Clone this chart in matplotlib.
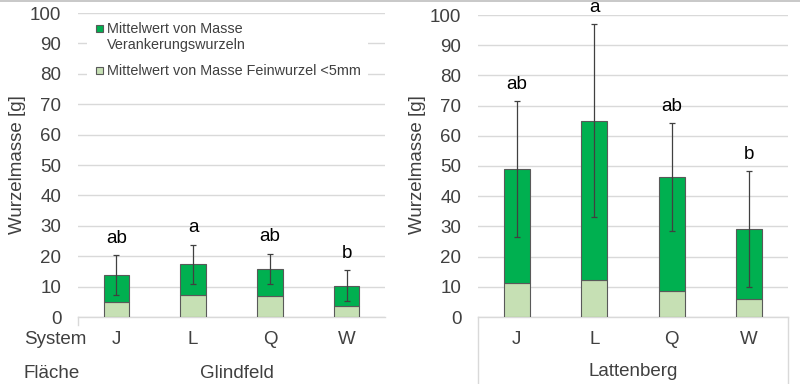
import matplotlib
matplotlib.use("Agg")
import matplotlib.pyplot as plt
from matplotlib.lines import Line2D
from matplotlib.patches import Rectangle

plt.rcParams['font.family'] = ['Liberation Sans', 'DejaVu Sans']

# data
systems = ['J', 'L', 'Q', 'W']
glind_total = [13.7, 17.4, 15.8, 10.3]
glind_fine = [5.0, 7.3, 7.0, 3.7]
glind_sd = [6.6, 6.4, 5.0, 5.1]
glind_letters = ['ab', 'a', 'ab', 'b']

latt_total = [49.0, 65.0, 46.3, 29.0]
latt_fine = [11.3, 12.3, 8.7, 6.0]
latt_sd = [22.5, 32.0, 17.9, 19.2]
latt_letters = ['ab', 'a', 'ab', 'b']

legend_labels = ['Mittelwert von Masse\nVerankerungswurzeln',
                 'Mittelwert von Masse Feinwurzel <5mm']

DARK = '#00B050'
LIGHT = '#C6E0B4'
EDGE = '#595959'
GRID = '#D9D9D9'
TXT = '#404040'

W, H = 800, 384
fig = plt.figure(figsize=(8, 3.84), dpi=100)


def fx(px):
    return px / W


def fy(py):
    return 1 - py / H


def px_axes(x0, x1, y_top, y_zero):
    return fig.add_axes([fx(x0), fy(y_zero), (x1 - x0) / W, (y_zero - y_top) / H])


def draw_panel(ax, total, fine, sd, letters):
    x = range(len(systems))
    upper = [t - f for t, f in zip(total, fine)]
    ax.bar(x, fine, width=0.33, color=LIGHT, edgecolor=EDGE, linewidth=0.8, zorder=3)
    ax.bar(x, upper, bottom=fine, width=0.33, color=DARK, edgecolor=EDGE, linewidth=0.8,
           zorder=3)
    ax.errorbar(x, total, yerr=sd, fmt='none', ecolor='#404040', elinewidth=0.9,
                capsize=2.5, capthick=0.9, zorder=4)
    for i, lab in enumerate(letters):
        ax.annotate(lab, (i, total[i] + sd[i]), xytext=(0, 6), textcoords='offset points',
                    ha='center', va='bottom', fontsize=13.5, color='black')
    ax.set_xlim(-0.5, len(systems) - 0.5)
    ax.set_ylim(0, 100)
    ax.set_yticks(range(0, 101, 10))
    ax.yaxis.grid(True, color=GRID, linewidth=1)
    ax.set_axisbelow(True)
    for s in ['top', 'right', 'left']:
        ax.spines[s].set_visible(False)
    ax.spines['bottom'].set_color(GRID)
    ax.spines['bottom'].set_linewidth(1)
    ax.tick_params(axis='y', length=0, pad=12, labelsize=13.5, labelcolor=TXT)
    ax.tick_params(axis='x', length=0, pad=10, labelsize=13.5, labelcolor=TXT)
    ax.set_xticks(list(x))
    ax.set_xticklabels(systems)


ax1 = px_axes(78, 385, 13, 317)
draw_panel(ax1, glind_total, glind_fine, glind_sd, glind_letters)
ax2 = px_axes(478, 788, 15, 317)
draw_panel(ax2, latt_total, latt_fine, latt_sd, latt_letters)

# y labels
fig.text(fx(18), fy(165), 'Wurzelmasse [g]', rotation=90, ha='center', va='center',
         fontsize=13.5, color=TXT)
fig.text(fx(418), fy(165), 'Wurzelmasse [g]', rotation=90, ha='center', va='center',
         fontsize=13.5, color=TXT)

# legend (white box hides grid behind it)
fig.add_artist(Rectangle((fx(87), fy(80)), (368 - 87) / W, 60 / H, facecolor='white',
                         edgecolor='none', zorder=2))
for yc, col, lab in [(28, DARK, legend_labels[0]), (70, LIGHT, legend_labels[1])]:
    fig.add_artist(Rectangle((fx(96), fy(yc + 3.5)), 7 / W, 7 / H, facecolor=col,
                             edgecolor=EDGE, linewidth=0.8, zorder=3))
    fig.text(fx(107), fy(yc - 6), lab, ha='left', va='top', fontsize=10.4, color=TXT,
             linespacing=1.22, zorder=3)

# category axis labels
fig.text(fx(55), fy(340), 'System', ha='center', va='center', fontsize=13.5, color=TXT)
fig.text(fx(52), fy(373), 'Fläche', ha='center', va='center', fontsize=13.5, color=TXT)
fig.text(fx(237), fy(373), 'Glindfeld', ha='center', va='center', fontsize=13.5, color=TXT)
fig.text(fx(633), fy(372), 'Lattenberg', ha='center', va='center', fontsize=13.5, color=TXT)

# frame lines
fig.add_artist(Line2D([0, 1], [fy(0.5), fy(0.5)], color='#BFBFBF', linewidth=1.2))
fig.add_artist(Line2D([fx(78), fx(78)], [fy(317), fy(325)], color=GRID, linewidth=1))
for xp in [478, 788]:
    fig.add_artist(Line2D([fx(xp), fx(xp)], [fy(317), 0], color=GRID, linewidth=1))

fig.savefig('out.png', dpi=100)
